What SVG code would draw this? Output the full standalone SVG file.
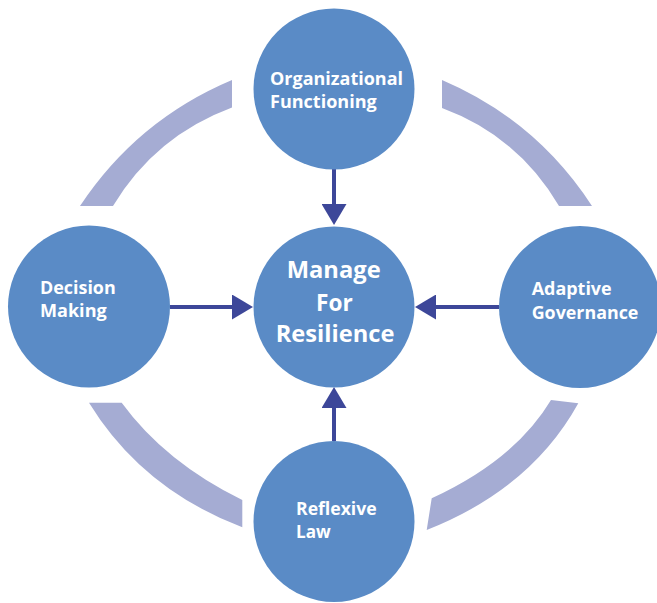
<svg xmlns="http://www.w3.org/2000/svg" width="657" height="603" viewBox="0 0 657 603">
<defs>
<style>
.band{fill:#A5ACD3;stroke:none}
.node{fill:#5A8BC6}
.lbl{fill:#ffffff;font-family:"Open Sans","Liberation Sans",sans-serif;font-weight:700;font-size:18px}
.big{font-size:23px}
.conn{stroke:#3D4799;stroke-width:4;fill:none}
</style>
<marker id="ah" markerUnits="userSpaceOnUse" markerWidth="21" markerHeight="25" refX="2" refY="12.5" orient="auto" viewBox="0 0 21 25">
<path d="M0,0 L21,12.5 L0,25 Z" fill="#3D4799"/>
</marker>
</defs>
<rect width="657" height="603" fill="#ffffff"/>
<g id="ring">
<path class="band" d="M80,206 Q137,120 232,80 L232,107.5 Q155,136 113,206 Z"/>
<path class="band" d="M442,80 Q536,120 592,206 L559,206 Q518,136 442,108 Z"/>
<path class="band" d="M89,402.7 Q142,489 242.3,527.3 L242.3,500 Q165,462 121.7,402.7 Z"/>
<path class="band" d="M578.3,403.3 Q531,489 426.7,530 L431.7,498.3 Q515,460 551,400 Z"/>
</g>
<g id="connectors">
<line class="conn" x1="334" y1="169" x2="334" y2="206" marker-end="url(#ah)"/>
<line class="conn" x1="170" y1="307" x2="234" y2="307" marker-end="url(#ah)"/>
<line class="conn" x1="499" y1="307" x2="434" y2="307" marker-end="url(#ah)"/>
<line class="conn" x1="334" y1="441" x2="334" y2="406" marker-end="url(#ah)"/>
</g>
<g id="organizational-functioning">
<circle class="node" cx="334" cy="89" r="80.5"/>
<text class="lbl" x="270" y="85" textLength="133" lengthAdjust="spacingAndGlyphs">Organizational</text>
<text class="lbl" x="270" y="108" textLength="106.7" lengthAdjust="spacingAndGlyphs">Functioning</text>
</g>
<g id="manage-for-resilience">
<circle class="node" cx="334" cy="307" r="80.5"/>
<text class="lbl big" x="286.7" y="277.5" textLength="94" lengthAdjust="spacingAndGlyphs">Manage</text>
<text class="lbl big" x="316" y="310.5" textLength="36.7" lengthAdjust="spacingAndGlyphs">For</text>
<text class="lbl big" x="275.7" y="341.7" textLength="118.7" lengthAdjust="spacingAndGlyphs">Resilience</text>
</g>
<g id="decision-making">
<circle class="node" cx="89" cy="306.5" r="81"/>
<text class="lbl" x="40" y="294" textLength="75.7" lengthAdjust="spacingAndGlyphs">Decision</text>
<text class="lbl" x="40" y="317.3" textLength="66.7" lengthAdjust="spacingAndGlyphs">Making</text>
</g>
<g id="adaptive-governance">
<circle class="node" cx="580" cy="307" r="81"/>
<text class="lbl" x="531.7" y="295" textLength="80" lengthAdjust="spacingAndGlyphs">Adaptive</text>
<text class="lbl" x="531.7" y="319.3" textLength="106.7" lengthAdjust="spacingAndGlyphs">Governance</text>
</g>
<g id="reflexive-law">
<circle class="node" cx="334" cy="521.5" r="80.5"/>
<text class="lbl" x="296" y="515" textLength="80.7" lengthAdjust="spacingAndGlyphs">Reflexive</text>
<text class="lbl" x="296" y="537.7" textLength="34.7" lengthAdjust="spacingAndGlyphs">Law</text>
</g>
</svg>
